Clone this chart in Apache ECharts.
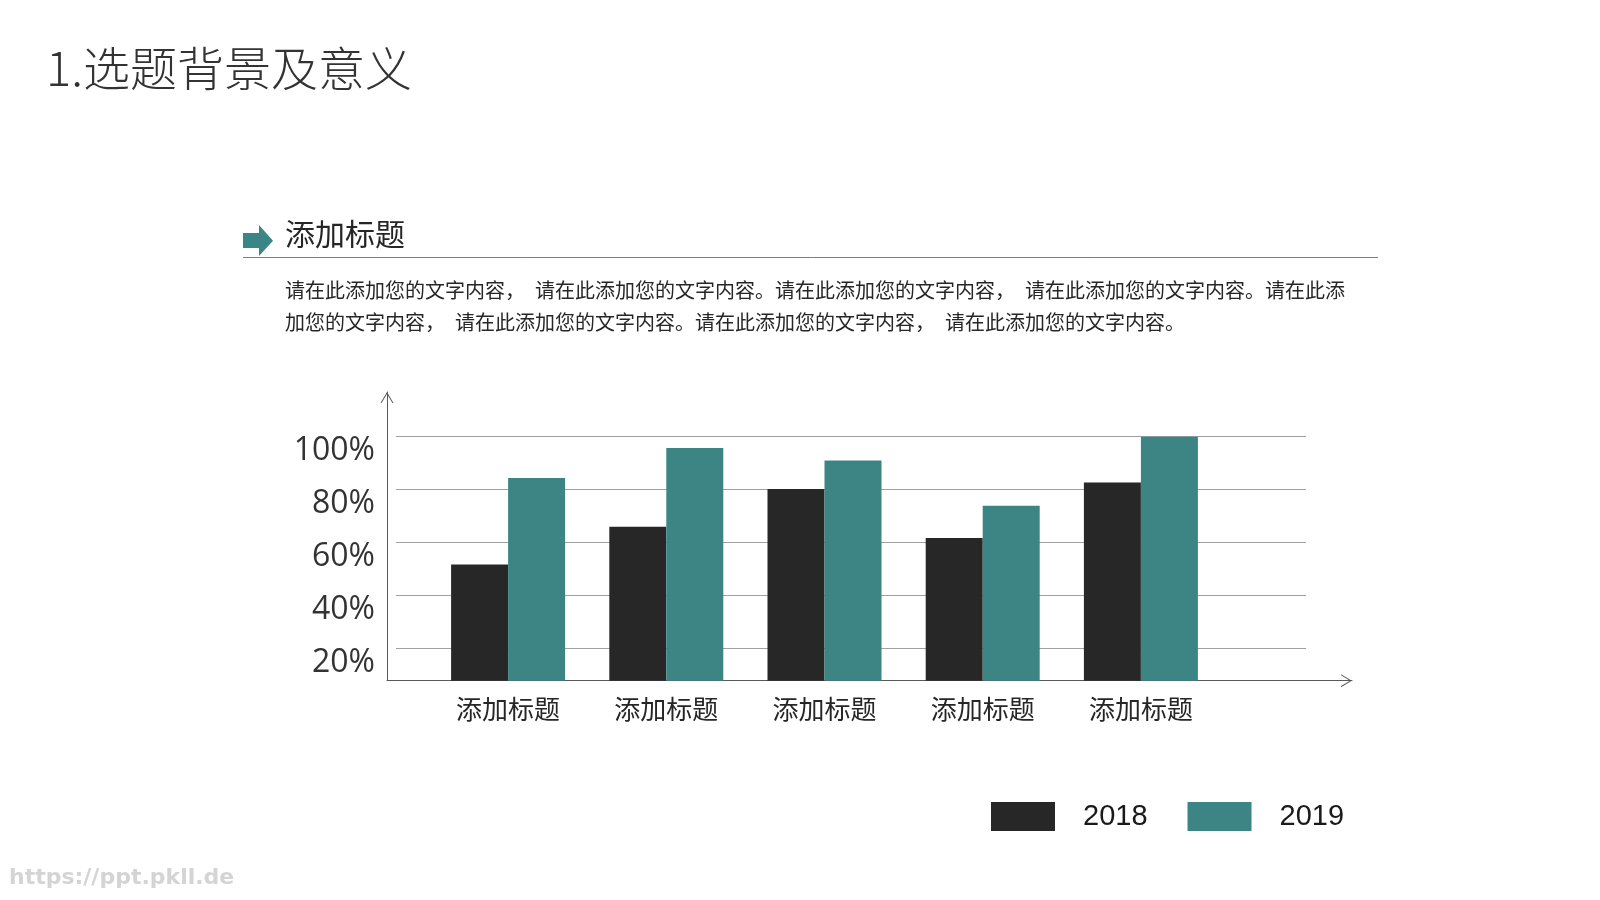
<!DOCTYPE html>
<html>
<head>
<meta charset="utf-8">
<title>选题背景及意义</title>
<script src="https://cdn.jsdelivr.net/npm/echarts@6/dist/echarts.min.js"></script>
<style>
  html, body { margin: 0; padding: 0; background: #fff; }
  #chart { width: 1600px; height: 900px; }
</style>
</head>
<body>
<div id="chart"></div>
<script>
// 数据
var categories = ['添加标题', '添加标题', '添加标题', '添加标题', '添加标题'];
var seriesNames = ['2018', '2019'];
var values2018 = [51.6, 65.8, 80.0, 61.6, 82.5];
var values2019 = [84.2, 95.5, 90.8, 73.7, 99.7];
var yTicks = [20, 40, 60, 80, 100];

var pageTitle = '1.选题背景及意义';
var subTitle = '添加标题';
var paraLines = [
  '请在此添加您的文字内容，　请在此添加您的文字内容。请在此添加您的文字内容，　请在此添加您的文字内容。请在此添',
  '加您的文字内容，　请在此添加您的文字内容。请在此添加您的文字内容，　请在此添加您的文字内容。'
];

var cjk = '"Noto Sans CJK SC", "Noto Sans", sans-serif';
var black = '#272727';
var teal = '#3d8585';

// 轴线箭头（开口）
var chevron = 'path://M0,10 L6,0 L12,10 L11,10 L6,1.8 L1,10 Z';

function arrowAxis(gridIndex) {
  return {
    gridIndex: gridIndex,
    type: 'value',
    min: 0,
    max: 1,
    axisLine: {
      show: true,
      onZero: false,
      symbol: ['none', chevron],
      symbolSize: [13, 11],
      symbolOffset: [0, -5.5],
      lineStyle: { color: '#595959', width: 1 }
    },
    axisTick: { show: false },
    axisLabel: { show: false },
    splitLine: { show: false }
  };
}

var myChart = echarts.init(document.getElementById('chart'));
var option = {
  backgroundColor: '#fff',
  animation: false,
  legend: {
    data: seriesNames,
    left: 986,
    top: 797,
    icon: 'rect',
    itemWidth: 64,
    itemHeight: 29,
    itemGap: 40,
    textStyle: {
      fontFamily: '"Liberation Sans", Arial, sans-serif',
      fontSize: 29,
      color: '#1a1a1a',
      padding: [0, 0, 0, 23]
    }
  },
  grid: [
    // 柱子
    { left: 429, width: 791, top: 436, bottom: 219.3 },
    // 网格线
    { left: 396, right: 294, top: 436, bottom: 252 },
    // 坐标轴线
    { left: 387, right: 248, top: 392, bottom: 219.3 },
    // y 标签（比网格线略低）
    { left: 396, right: 294, top: 450.5, bottom: 237.5 }
  ],
  xAxis: [
    {
      gridIndex: 0,
      type: 'category',
      data: categories,
      axisLine: { show: false },
      axisTick: { show: false },
      axisLabel: { fontFamily: cjk, fontSize: 26, color: '#262626', margin: 15 }
    },
    { gridIndex: 1, type: 'value', min: 0, max: 1, show: false },
    arrowAxis(2),
    { gridIndex: 3, type: 'value', min: 0, max: 1, show: false }
  ],
  yAxis: [
    { gridIndex: 0, type: 'value', min: 7.8, max: 100, show: false, splitLine: { show: false } },
    {
      gridIndex: 1,
      type: 'value',
      min: yTicks[0],
      max: yTicks[yTicks.length - 1],
      interval: 20,
      axisLine: { show: false },
      axisTick: { show: false },
      axisLabel: { show: false },
      splitLine: { show: true, lineStyle: { color: '#a0a0a0', width: 1 } }
    },
    arrowAxis(2),
    {
      gridIndex: 3,
      type: 'value',
      min: yTicks[0],
      max: yTicks[yTicks.length - 1],
      interval: 20,
      axisLine: { show: false },
      axisTick: { show: false },
      splitLine: { show: false },
      axisLabel: {
        formatter: '{value}%',
        fontFamily: '"Open Sans", sans-serif',
        fontSize: 32,
        color: '#333',
        margin: 21
      }
    }
  ],
  series: [
    {
      name: seriesNames[0],
      type: 'bar',
      xAxisIndex: 0,
      yAxisIndex: 0,
      data: values2018,
      barWidth: 57,
      barGap: '0%',
      itemStyle: { color: black },
      z: 3
    },
    {
      name: seriesNames[1],
      type: 'bar',
      xAxisIndex: 0,
      yAxisIndex: 0,
      data: values2019,
      barWidth: 57,
      barGap: '0%',
      itemStyle: { color: teal },
      z: 3
    }
  ],
  graphic: [
    {
      type: 'text',
      x: 46,
      y: 68,
      style: { text: pageTitle, fontFamily: cjk, fontWeight: 300, fontSize: 47, fill: '#333', verticalAlign: 'middle' }
    },
    {
      type: 'polygon',
      shape: { points: [[243, 233], [259, 233], [259, 225], [273, 240.7], [259, 256], [259, 248], [243, 248]] },
      style: { fill: '#3a8585' }
    },
    {
      type: 'line',
      shape: { x1: 243, y1: 257.5, x2: 1378, y2: 257.5 },
      style: { stroke: '#5f8a8f', lineWidth: 1 }
    },
    {
      type: 'text',
      x: 285,
      y: 234,
      style: { text: subTitle, fontFamily: cjk, fontSize: 30, fill: '#262626', verticalAlign: 'middle' }
    },
    {
      type: 'text',
      x: 285,
      y: 290,
      style: { text: paraLines[0], fontFamily: cjk, fontSize: 20, fill: '#262626', verticalAlign: 'middle' }
    },
    {
      type: 'text',
      x: 285,
      y: 322,
      style: { text: paraLines[1], fontFamily: cjk, fontSize: 20, fill: '#262626', verticalAlign: 'middle' }
    },
    {
      type: 'text',
      x: 9,
      y: 878,
      style: { text: 'https://ppt.pkll.de', fontFamily: '"DejaVu Sans", sans-serif', fontWeight: 'bold', fontSize: 22, fill: '#d4d4d4', verticalAlign: 'middle' }
    }
  ]
};
option && myChart.setOption(option);
window.addEventListener('resize', function () {
  myChart.resize();
});
</script>
</body>
</html>
